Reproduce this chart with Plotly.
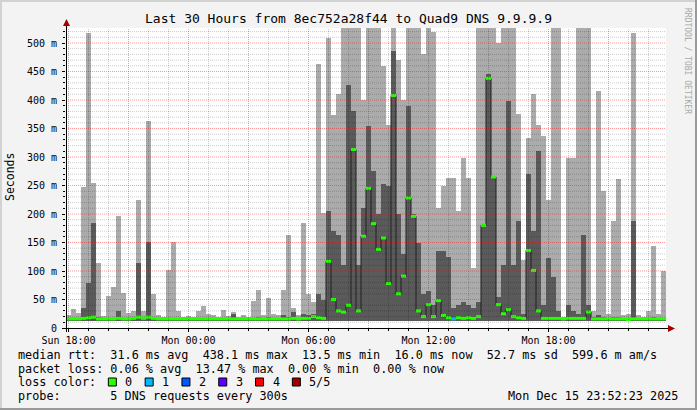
import plotly.graph_objects as go
import pandas as pd

# ---------------- data ----------------
title_text = "Last 30 Hours from 8ec752a28f44 to Quad9 DNS 9.9.9.9"
start = pd.Timestamp("2025-12-14 17:52:23")
end = pd.Timestamp("2025-12-15 23:52:23")
bin_minutes = 15

# per 15-minute bin, milliseconds
rtt_min = [13, 13, 12, 13, 13, 12, 13, 13, 13, 12, 13, 13, 13, 12, 13, 13, 12, 13, 13, 13,
           13, 12, 13, 13, 13, 13, 12, 13, 13, 13, 13, 13, 12, 13, 13, 13, 13, 12, 13, 13,
           13, 13, 13, 12, 13, 13, 13, 12, 13, 13, 13, 12, 13, 13, 12, 13, 12, 13, 13, 12,
           13, 13, 12, 13, 13, 12, 13, 12, 13, 13, 12, 13, 13, 12, 13, 13, 12, 12, 13, 13,
           13, 12, 13, 13, 12, 13, 13, 12, 13, 13, 13, 12, 13, 13, 12, 13, 13, 13, 12, 13,
           13, 13, 12, 13, 13, 13, 12, 13, 13, 13, 13, 12, 13, 13, 13, 12, 13, 13, 12, 13]
rtt_med = [16, 16, 16, 17, 18, 19, 16, 16, 16, 16, 17, 16, 16, 17, 19, 17, 19, 17, 16, 16,
           16, 16, 16, 16, 16, 16, 16, 16, 16, 16, 16, 16, 16, 16, 16, 16, 16, 16, 16, 16,
           16, 16, 16, 16, 16, 17, 16, 17, 17, 20, 18, 17, 117, 50, 30, 28, 40, 313, 30, 161,
           245, 183, 138, 158, 78, 408, 60, 91, 228, 196, 30, 20, 41, 20, 48, 22, 18, 16, 18, 17,
           18, 17, 20, 180, 438, 265, 41, 25, 32, 20, 18, 17, 136, 101, 30, 17, 17, 17, 17, 16,
           17, 17, 17, 17, 28, 16, 16, 16, 16, 16, 16, 16, 15, 16, 16, 16, 16, 16, 16, 16]
rtt_p4 = [17, 18, 18, 35, 79, 185, 20, 17, 18, 18, 30, 18, 17, 18, 114, 18, 151, 20, 17, 17,
          18, 18, 17, 17, 17, 17, 18, 18, 17, 17, 17, 18, 17, 24, 17, 18, 17, 18, 20, 17,
          20, 17, 17, 22, 20, 28, 18, 25, 22, 25, 60, 50, 205, 170, 164, 111, 427, 380, 110, 211,
          354, 276, 200, 252, 249, 486, 200, 130, 390, 200, 150, 60, 65, 40, 135, 135, 125, 35, 40, 45,
          40, 35, 45, 182, 445, 266, 55, 110, 398, 111, 187, 25, 270, 170, 310, 40, 123, 90, 30, 17,
          40, 30, 25, 164, 40, 20, 22, 20, 18, 20, 20, 17, 18, 187, 17, 17, 18, 20, 18, 18]
rtt_max = [22, 33, 27, 248, 517, 255, 114, 21, 56, 72, 196, 62, 27, 30, 225, 30, 364, 60, 22, 20,
           102, 151, 29, 20, 21, 20, 29, 38, 25, 22, 20, 32, 21, 28, 20, 22, 20, 47, 67, 22,
           53, 24, 22, 67, 164, 35, 22, 185, 59, 45, 463, 202, 509, 373, 410, 527, 527, 527, 527, 400,
           527, 527, 527, 460, 357, 527, 470, 400, 527, 527, 527, 480, 527, 520, 211, 250, 263, 263, 205, 298,
           263, 105, 527, 527, 527, 527, 500, 527, 527, 527, 375, 120, 334, 410, 357, 337, 225, 527, 527, 20,
           299, 299, 527, 527, 527, 30, 416, 240, 25, 187, 261, 22, 25, 518, 22, 20, 30, 143, 25, 100]
loss = [0] * 77 + [1] + [0] * 42  # lost pings per bin (one bin with 1/5 lost)

y_tick_vals = [0, 50, 100, 150, 200, 250, 300, 350, 400, 450, 500]
y_tick_text = ["0", "50 m", "100 m", "150 m", "200 m", "250 m", "300 m", "350 m", "400 m", "450 m", "500 m"]
x_tick_vals = ["2025-12-14 18:00", "2025-12-15 00:00", "2025-12-15 06:00", "2025-12-15 12:00", "2025-12-15 18:00"]
x_tick_text = ["Sun 18:00", "Mon 00:00", "Mon 06:00", "Mon 12:00", "Mon 18:00"]

legend_rtt = "median rtt:  31.6 ms avg  438.1 ms max  13.5 ms min  16.0 ms now  52.7 ms sd  599.6 m am/s"
legend_loss = "packet loss: 0.06 % avg  13.47 % max  0.00 % min  0.00 % now"
legend_color_label = "loss color:"
loss_labels = ["0", "1", "2", "3", "4", "5/5"]
loss_colors = ["#26ff00", "#00b8ff", "#0059ff", "#5e00ff", "#ff0000", "#a00000"]
legend_probe = "probe:       5 DNS requests every 300s"
stamp_text = "Mon Dec 15 23:52:23 2025"
watermark = "RRDTOOL / TOBI OETIKER"

# ---------------- geometry ----------------
W, H = 697, 410
L, R, T, B = 66, 666, 28, 328
y_top = (B - T) / 0.57  # 0.57 px per ms


def px(xp):
    return (xp - L) / (R - L)


def py(yp):
    return (B - yp) / (B - T)


MONO = "DejaVu Sans Mono"

step = pd.Timedelta(minutes=bin_minutes)
n = len(rtt_max)
fmt = "%Y-%m-%d %H:%M:%S"
t_start = [(start + i * step).strftime(fmt) for i in range(n)]
t_mid = [(start + i * step + step / 2).strftime(fmt) for i in range(n)]
t_end = [(start + (i + 1) * step).strftime(fmt) for i in range(n)]
width_ms = bin_minutes * 60 * 1000

fig = go.Figure()
fig.add_bar(x=t_mid, y=[h - l for h, l in zip(rtt_max, rtt_min)], base=rtt_min, width=width_ms,
            marker=dict(color="#ababab", line=dict(width=0)), hoverinfo="skip")
fig.add_bar(x=t_mid, y=[p - l for p, l in zip(rtt_p4, rtt_min)], base=rtt_min, width=width_ms,
            marker=dict(color="#5a5a5a", line=dict(width=0)), hoverinfo="skip")

# thin dark median line (vertical jumps)
fig.add_scatter(x=t_start + [end.strftime(fmt)], y=rtt_med + [rtt_med[-1]], mode="lines",
                line=dict(color="#202020", width=1, shape="hv"), hoverinfo="skip")

# coloured horizontal median segments by loss
for lvl in sorted(set(loss)):
    xs, ys = [], []
    for i in range(n):
        if loss[i] == lvl:
            xs += [t_start[i], t_end[i], None]
            ys += [rtt_med[i], rtt_med[i], None]
    fig.add_scatter(x=xs, y=ys, mode="lines", line=dict(color=loss_colors[lvl], width=3),
                    connectgaps=False, hoverinfo="skip")

shapes = []
# grid above data
red = "rgba(255,0,0,0.40)"
gray = "rgba(0,0,0,0.20)"
hours = pd.date_range("2025-12-14 18:00", "2025-12-15 23:00", freq="1h")
for h in hours:
    shapes.append(dict(type="line", xref="x", yref="paper", x0=h.strftime(fmt), x1=h.strftime(fmt),
                       y0=0, y1=1, line=dict(color=red if h.hour % 3 == 0 else gray, width=1, dash="1px,1px"),
                       layer="above"))
for v in range(10, 530, 10):
    shapes.append(dict(type="line", xref="paper", yref="y", x0=0, x1=1, y0=v, y1=v,
                       line=dict(color=red if v % 50 == 0 else gray, width=1, dash="1px,1px"), layer="above"))

# axes lines and arrows
shapes.append(dict(type="line", xref="paper", yref="paper", x0=px(62), x1=px(669), y0=py(328.5), y1=py(328.5),
                   line=dict(color="black", width=1), layer="above"))
shapes.append(dict(type="line", xref="paper", yref="paper", x0=px(66.5), x1=px(66.5), y0=py(332), y1=py(24),
                   line=dict(color="black", width=1), layer="above"))
arrow_col = "#a00000"
shapes.append(dict(type="path", xref="paper", yref="paper",
                   path=f"M {px(66.5)} {py(19)} L {px(63)} {py(26)} L {px(70)} {py(26)} Z",
                   fillcolor=arrow_col, line=dict(color=arrow_col, width=0), layer="above"))
shapes.append(dict(type="path", xref="paper", yref="paper",
                   path=f"M {px(675)} {py(328.5)} L {px(668)} {py(325)} L {px(668)} {py(332)} Z",
                   fillcolor=arrow_col, line=dict(color=arrow_col, width=0), layer="above"))

# frame
shapes.append(dict(type="line", xref="paper", yref="paper", x0=px(0), x1=px(W), y0=py(1), y1=py(1),
                   line=dict(color="#d2d2d2", width=2)))
shapes.append(dict(type="line", xref="paper", yref="paper", x0=px(1), x1=px(1), y0=py(0), y1=py(H),
                   line=dict(color="#d2d2d2", width=2)))
shapes.append(dict(type="line", xref="paper", yref="paper", x0=px(0), x1=px(W), y0=py(H - 1), y1=py(H - 1),
                   line=dict(color="#9a9a9a", width=2)))
shapes.append(dict(type="line", xref="paper", yref="paper", x0=px(W - 1), x1=px(W - 1), y0=py(0), y1=py(H),
                   line=dict(color="#9a9a9a", width=2)))

annotations = []


def txt(text, xp, yp, size, xanchor="left", color="black", angle=0):
    annotations.append(dict(text=text, x=px(xp), y=py(yp), xref="paper", yref="paper", showarrow=False,
                            xanchor=xanchor, yanchor="middle", textangle=angle,
                            font=dict(family=MONO, size=size, color=color)))


LEG = 11.8
cw = LEG * 0.602
txt(title_text, 348, 19, 13, xanchor="center")
txt("Seconds", 10, 177, 11.5, xanchor="center", angle=-90)
txt(watermark, 687, 61, 8, xanchor="center", color="#a8a8a8", angle=90)
txt(legend_rtt, 16, 355, LEG)
txt(legend_loss, 16, 368.5, LEG)
txt(legend_color_label, 16, 382, LEG)
txt(legend_probe, 16, 396, LEG)
txt(stamp_text, 680, 396, LEG, xanchor="right")

box_x0 = 16 + 13 * cw
spacing = 36.8
for k, (lab, col) in enumerate(zip(loss_labels, loss_colors)):
    bx = box_x0 + k * spacing
    shapes.append(dict(type="rect", xref="paper", yref="paper", x0=px(bx), x1=px(bx + 8),
                       y0=py(386), y1=py(378), fillcolor=col, line=dict(color="black", width=1)))
    txt(lab, bx + 15, 382, LEG)

fig.update_layout(
    width=W, height=H, autosize=False,
    margin=dict(l=L, r=W - R, t=T, b=H - B, pad=0),
    paper_bgcolor="#f3f3f3", plot_bgcolor="white",
    barmode="overlay", bargap=0, showlegend=False,
    shapes=shapes, annotations=annotations,
    xaxis=dict(type="date", range=[start.strftime(fmt), end.strftime(fmt)],
               tickmode="array", tickvals=x_tick_vals, ticktext=x_tick_text,
               ticks="outside", ticklen=3, tickcolor="black", tickwidth=1,
               showgrid=False, zeroline=False, showline=False,
               tickfont=dict(family=MONO, size=10, color="black"),
               minor=dict(ticks="outside", ticklen=2, tickcolor="black", dtick=3600000,
                          tick0="2025-12-14 18:00", showgrid=False)),
    yaxis=dict(range=[0, y_top], tickmode="array", tickvals=y_tick_vals, ticktext=y_tick_text,
               ticks="outside", ticklen=3, tickcolor="black", tickwidth=1,
               showgrid=False, zeroline=False, showline=False,
               tickfont=dict(family=MONO, size=10, color="black"), ticklabelstandoff=3,
               minor=dict(ticks="outside", ticklen=2, tickcolor="black", dtick=10, tick0=0, showgrid=False)),
)

fig.write_html("out.html", config={"displayModeBar": False, "staticPlot": True},
               post_script="document.body.style.margin='0';document.body.style.padding='0';"
                           "document.body.style.overflow='hidden';")
